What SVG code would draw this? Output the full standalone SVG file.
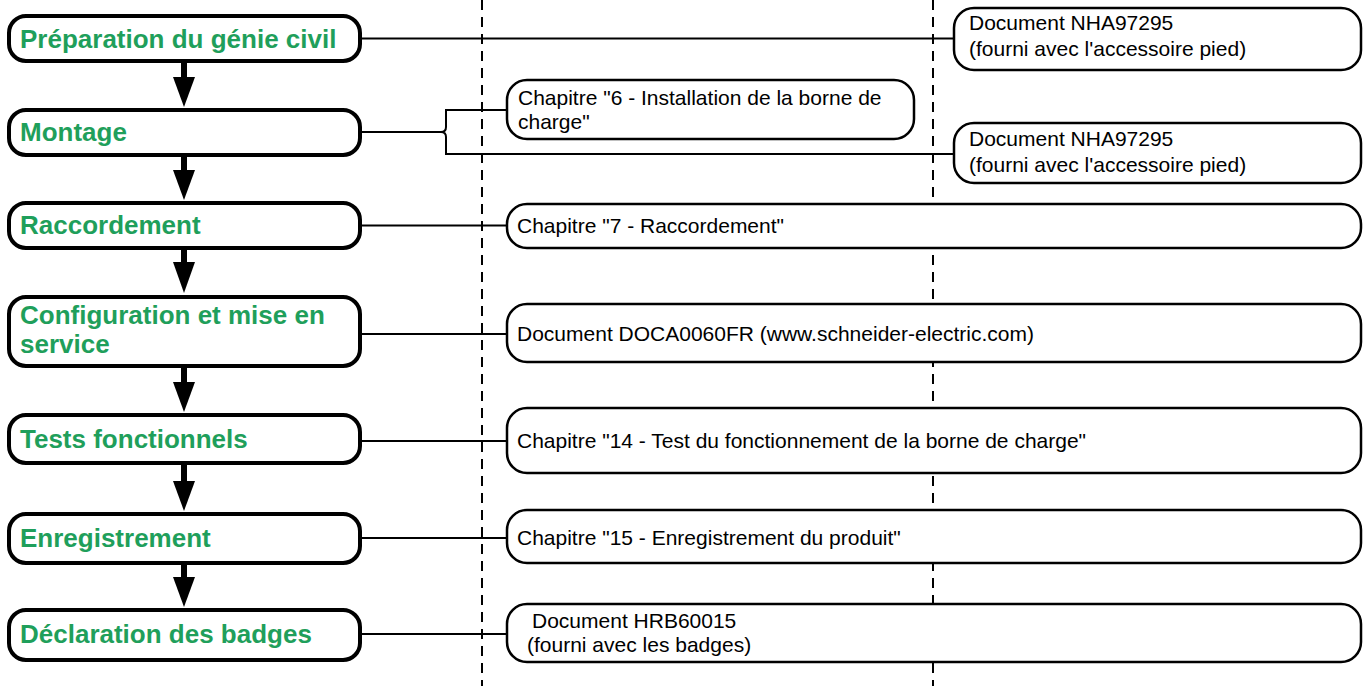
<svg xmlns="http://www.w3.org/2000/svg" width="1366" height="686" viewBox="0 0 1366 686">
<style>
.step{fill:#fff;stroke:#000;stroke-width:4}
.ref{fill:#fff;stroke:#000;stroke-width:2.5}
.st{font-family:"Liberation Sans",Arial,sans-serif;font-weight:bold;font-size:26px;fill:#1f9f5b}
.rt{font-family:"Liberation Sans",Arial,sans-serif;font-size:21px;fill:#000}
.con{fill:none;stroke:#000;stroke-width:2}
.dash{stroke:#000;stroke-width:2;stroke-dasharray:10 7}
.shaft{stroke:#000;stroke-width:6}
</style>
<rect width="1366" height="686" fill="#fff"/>
<g id="guides">
<line class="dash" x1="482" y1="0" x2="482" y2="686"/>
<line class="dash" x1="933" y1="0" x2="933" y2="686"/>
</g>
<g id="connectors">
<line class="con" x1="362" y1="38.5" x2="954" y2="38.5"/>
<path class="con" d="M362 132 H441 Q446 132 446 127 V110 H507 M441 132 Q446 132 446 137 V154 H954"/>
<line class="con" x1="362" y1="225.5" x2="507" y2="225.5"/>
<line class="con" x1="362" y1="334" x2="507" y2="334"/>
<line class="con" x1="362" y1="441" x2="507" y2="441"/>
<line class="con" x1="362" y1="538" x2="507" y2="538"/>
<line class="con" x1="362" y1="634" x2="507" y2="634"/>
<line class="shaft" x1="184" y1="63" x2="184" y2="78"/><polygon points="173,77 195,77 184,107"/>
<line class="shaft" x1="184" y1="157" x2="184" y2="171"/><polygon points="173,170 195,170 184,200"/>
<line class="shaft" x1="184" y1="250" x2="184" y2="263"/><polygon points="173,262 195,262 184,293"/>
<line class="shaft" x1="184" y1="368" x2="184" y2="383"/><polygon points="173,382 195,382 184,412"/>
<line class="shaft" x1="184" y1="465" x2="184" y2="482"/><polygon points="173,481 195,481 184,511"/>
<line class="shaft" x1="184" y1="565" x2="184" y2="578"/><polygon points="173,577 195,577 184,607"/>
</g>
<g id="n1"><rect class="step" x="9" y="16" width="351" height="45" rx="17"/><text class="st" x="20" y="48">Préparation du génie civil</text></g>
<g id="n2"><rect class="step" x="9" y="110" width="351" height="45" rx="17"/><text class="st" x="20" y="141">Montage</text></g>
<g id="n3"><rect class="step" x="9" y="203" width="351" height="45" rx="17"/><text class="st" x="20" y="234">Raccordement</text></g>
<g id="n4"><rect class="step" x="9" y="297" width="351" height="69" rx="17"/><text class="st" x="20" y="324">Configuration et mise en</text><text class="st" x="20" y="353">service</text></g>
<g id="n5"><rect class="step" x="9" y="415" width="351" height="48" rx="17"/><text class="st" x="20" y="448">Tests fonctionnels</text></g>
<g id="n6"><rect class="step" x="9" y="514" width="351" height="49" rx="17"/><text class="st" x="20" y="547">Enregistrement</text></g>
<g id="n7"><rect class="step" x="9" y="610" width="351" height="50" rx="17"/><text class="st" x="20" y="643">Déclaration des badges</text></g>
<g id="r1"><rect class="ref" x="954" y="8" width="407" height="62" rx="20"/><text class="rt" x="969" y="30">Document NHA97295</text><text class="rt" x="969" y="56">(fourni avec l'accessoire pied)</text></g>
<g id="r2a"><rect class="ref" x="507" y="80" width="407" height="59" rx="20"/><text class="rt" x="518" y="105">Chapitre "6 - Installation de la borne de</text><text class="rt" x="518" y="129">charge"</text></g>
<g id="r2b"><rect class="ref" x="954" y="123" width="407" height="60" rx="20"/><text class="rt" x="969" y="146">Document NHA97295</text><text class="rt" x="969" y="172">(fourni avec l'accessoire pied)</text></g>
<g id="r3"><rect class="ref" x="507" y="204" width="854" height="44" rx="20"/><text class="rt" x="517" y="233">Chapitre "7 - Raccordement"</text></g>
<g id="r4"><rect class="ref" x="507" y="304" width="854" height="58" rx="20"/><text class="rt" x="517" y="341">Document DOCA0060FR (www.schneider-electric.com)</text></g>
<g id="r5"><rect class="ref" x="507" y="408" width="854" height="65" rx="20"/><text class="rt" x="517" y="448">Chapitre "14 - Test du fonctionnement de la borne de charge"</text></g>
<g id="r6"><rect class="ref" x="507" y="510" width="854" height="53" rx="20"/><text class="rt" x="517" y="545">Chapitre "15 - Enregistrement du produit"</text></g>
<g id="r7"><rect class="ref" x="507" y="604" width="854" height="58" rx="20"/><text class="rt" x="532" y="628">Document HRB60015</text><text class="rt" x="527" y="652">(fourni avec les badges)</text></g>
</svg>
